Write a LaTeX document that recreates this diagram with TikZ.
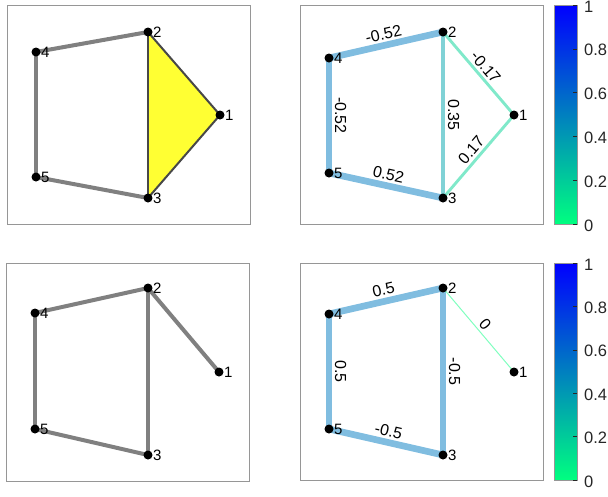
\documentclass[tikz,border=0pt]{standalone}
\usepackage{fontspec}
\setmainfont{Liberation Sans}
\usetikzlibrary{positioning,backgrounds}
\definecolor{edgegray}{RGB}{128,128,128}
\definecolor{tridark}{RGB}{72,72,72}
\definecolor{triyellow}{RGB}{255,255,51}
\definecolor{axgray}{RGB}{150,150,150}
\definecolor{tickgray}{RGB}{38,38,38}
\definecolor{wA}{RGB}{128,189,224}
\definecolor{wB}{RGB}{128,210,214}
\definecolor{wC}{RGB}{128,233,202}
\definecolor{wD}{RGB}{128,255,191}
\definecolor{cbtop}{RGB}{0,0,255}
\definecolor{cbbot}{RGB}{0,255,128}

\begin{document}
\begin{tikzpicture}[x=1pt,y=-1pt]
\tikzset{
 dot/.style={circle,fill=black,inner sep=0pt,minimum size=9pt},
 lbl/.style={inner sep=0.3pt,font=\fontsize{15}{15}\selectfont},
 axbox/.style={draw=axgray,line width=1pt},
 g/.style={draw=edgegray,line width=4pt},
 tri/.style={draw=tridark,line width=2pt},
 wa/.style={draw=wA,line width=6.7pt},
 wb/.style={draw=wB,line width=4.9pt},
 wc/.style={draw=wC,line width=2.9pt},
 wd/.style={draw=wD,line width=1pt},
 elab/.style={sloped,above,inner sep=2.5pt,font=\fontsize{16}{16}\selectfont},
 cblab/.style={anchor=west,inner sep=0pt,text=tickgray,font=\fontsize{16.5}{16.5}\selectfont}
}
\useasboundingbox (0,0) rectangle (608,496);
% axes boxes
\draw[axbox] (7,5) rectangle (250,224);
\draw[axbox] (300,5) rectangle (543,224);
\draw[axbox] (6,263) rectangle (249,481);
\draw[axbox] (300,263) rectangle (543,480);
% colorbars
\foreach \t/\b/\k in {5/224/a,263/480/b}{
  \shade[top color=cbtop,bottom color=cbbot] (554,\t) rectangle (577,\b);
  \draw[axgray,line width=0.8pt] (554,\t) rectangle (577,\b);
  \foreach \v [count=\c] in {0,0.2,0.4,0.6,0.8,1}{
    \pgfmathsetmacro{\yy}{\b-\v*(\b-\t)}
    \draw[tickgray,line width=0.5pt] (573,\yy) -- (577,\yy);
    \node[cblab] (cb\k\c) at (584,\yy+1.5) {\v};
  }
}
% vertices
\foreach \i/\x/\y in {1/220/115,2/148/32,3/148/198,4/36/52,5/36/177}{
  \node[dot] (a\i) at (\x,\y) {};
  \node[lbl,right=0pt of a\i] (la\i) {\i};
}
\foreach \i/\x/\y in {1/514/115,2/443/32,3/443/198,4/329/58,5/329/173}{
  \node[dot] (b\i) at (\x,\y) {};
  \node[lbl,right=0pt of b\i] (lb\i) {\i};
}
\foreach \i/\x/\y in {1/219/372,2/148/288,3/148/455,4/35/313,5/35/429}{
  \node[dot] (c\i) at (\x,\y) {};
  \node[lbl,right=0pt of c\i] (lc\i) {\i};
}
\foreach \i/\x/\y in {1/514/372,2/443/288,3/443/455,4/329/314,5/329/429}{
  \node[dot] (d\i) at (\x,\y) {};
  \node[lbl,right=0pt of d\i] (ld\i) {\i};
}
% edges
\begin{scope}[on background layer]
\fill[triyellow] (a2.center) -- (a1.center) -- (a3.center) -- cycle;
\foreach \i/\j in {a4/a2,a4/a5,a5/a3}{\draw[g] (\i.center) -- (\j.center);}
\foreach \i/\j in {a2/a1,a1/a3,a2/a3}{\draw[tri] (\i.center) -- (\j.center);}
\foreach \i/\j/\w/\s in {b4/b2/-0.52/wa,b4/b5/-0.52/wa,b5/b3/0.52/wa,b2/b3/0.35/wb,b2/b1/-0.17/wc,b3/b1/0.17/wc}{
  \draw[\s] (\i.center) -- node[elab] (e\i\j) {\w} (\j.center);
}
\foreach \i/\j in {c4/c2,c4/c5,c5/c3,c2/c3,c2/c1}{\draw[g] (\i.center) -- (\j.center);}
\foreach \i/\j/\w/\s in {d4/d2/0.5/wa,d4/d5/0.5/wa,d5/d3/-0.5/wa,d2/d3/-0.5/wa,d2/d1/0/wd}{
  \draw[\s] (\i.center) -- node[elab] (e\i\j) {\w} (\j.center);
}
\end{scope}
\end{tikzpicture}
\end{document}
